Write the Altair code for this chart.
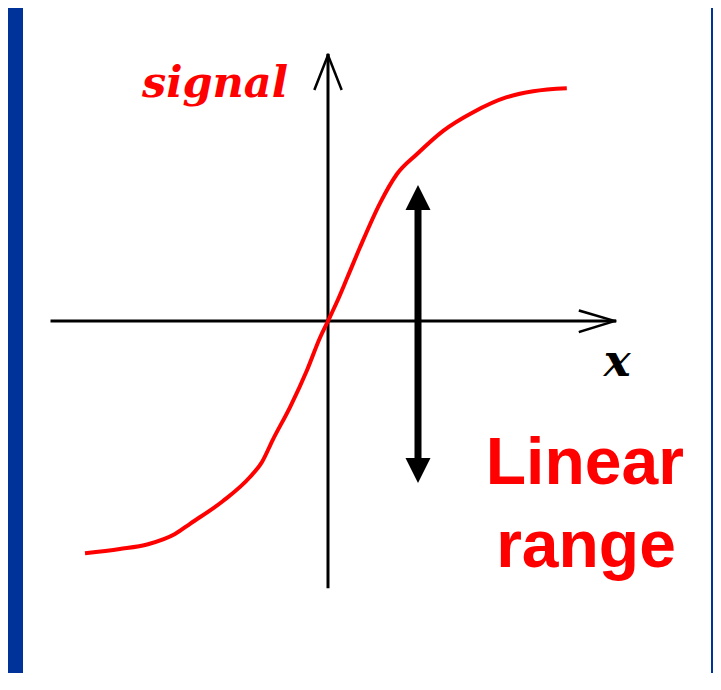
import altair as alt
import pandas as pd

# ---- data (units: 1 unit = 60 px, origin at the axes crossing) ----
curve_x = [-4.05, -3.47, -3.00, -2.55, -2.30, -1.75, -1.30, -1.10, -0.92, -0.63, -0.35, -0.13, 0.0,
           0.15, 0.32, 0.53, 0.87, 1.15, 1.48, 1.92, 2.42, 2.98, 3.42, 3.98]
curve_y = [-3.87, -3.80, -3.72, -3.55, -3.38, -3.00, -2.60, -2.35, -1.98, -1.43, -0.82, -0.27, 0.0,
           0.32, 0.72, 1.22, 1.97, 2.45, 2.78, 3.17, 3.48, 3.73, 3.83, 3.88]

# axis segments: x, y, x2, y2
axis_x1 = [-4.60, 0.00, 4.20, 4.20, -0.22, 0.22]
axis_y1 = [0.00, -4.43, 0.17, -0.18, 3.87, 3.87]
axis_x2 = [4.78, 0.00, 4.78, 4.78, 0.00, 0.00]
axis_y2 = [0.00, 4.43, 0.00, 0.00, 4.43, 4.43]
axis_w = [3, 3, 2.5, 2.5, 2.5, 2.5]

# linear range double arrow
range_x = [1.5]
range_top = [2.27]
range_bottom = [-2.70]
head_len = 0.42

labels = ["signal", "x"]
label_x = [-3.10, 4.82]
label_y = [3.73, -0.92]

note_lines = ["Linear", "range"]
note_x = [4.28, 4.30]
note_y = [-2.72, -4.10]

W, H = 705, 665
xs = alt.Scale(domain=[-5.3333, 6.4167], nice=False, zero=False)
ys = alt.Scale(domain=[-5.8667, 5.2167], nice=False, zero=False)

one = pd.DataFrame({"a": [0]})
left_bar = alt.Chart(one).mark_rect(color="#003399").encode(
    x=alt.value(0), x2=alt.value(15), y=alt.value(0), y2=alt.value(H))
right_bar = alt.Chart(one).mark_rect(color="#003399").encode(
    x=alt.value(W - 2), x2=alt.value(W), y=alt.value(0), y2=alt.value(H))

seg = pd.DataFrame({"x": axis_x1, "y": axis_y1, "x2": axis_x2, "y2": axis_y2, "w": axis_w})
axes = alt.Chart(seg).mark_rule(color="black", strokeCap="square").encode(
    x=alt.X("x:Q", scale=xs, axis=None), y=alt.Y("y:Q", scale=ys, axis=None),
    x2="x2:Q", y2="y2:Q",
    strokeWidth=alt.StrokeWidth("w:Q", scale=None, legend=None))

cdf = pd.DataFrame({"x": curve_x, "y": curve_y, "o": list(range(len(curve_x)))})
curve = alt.Chart(cdf).mark_line(color="#ff0000", strokeWidth=4, interpolate="monotone").encode(
    x=alt.X("x:Q", scale=xs, axis=None), y=alt.Y("y:Q", scale=ys, axis=None), order="o:Q")

adf = pd.DataFrame({"x": range_x, "top": [t - head_len * 0.9 for t in range_top],
                    "bot": [b + head_len * 0.9 for b in range_bottom],
                    "hu": [t - head_len / 2 for t in range_top],
                    "hd": [b + head_len / 2 for b in range_bottom]})
shaft = alt.Chart(adf).mark_rule(color="black", strokeWidth=7).encode(
    x=alt.X("x:Q", scale=xs, axis=None), y=alt.Y("top:Q", scale=ys, axis=None), y2="bot:Q")
head_up = alt.Chart(adf).mark_point(shape="M0,-1L1,1L-1,1Z", filled=True, size=625,
                                    color="black", opacity=1).encode(
    x=alt.X("x:Q", scale=xs, axis=None), y=alt.Y("hu:Q", scale=ys, axis=None))
head_dn = alt.Chart(adf).mark_point(shape="M0,1L1,-1L-1,-1Z", filled=True, size=625,
                                    color="black", opacity=1).encode(
    x=alt.X("x:Q", scale=xs, axis=None), y=alt.Y("hd:Q", scale=ys, axis=None))

ldf = pd.DataFrame({"t": labels, "x": label_x, "y": label_y})
sig = alt.Chart(ldf[ldf.t == "signal"]).mark_text(
    font="DejaVu Serif", fontSize=43, fontStyle="italic", fontWeight="bold",
    align="left", baseline="alphabetic", color="#ff0000").encode(
    x=alt.X("x:Q", scale=xs, axis=None), y=alt.Y("y:Q", scale=ys, axis=None), text="t:N")
xlab = alt.Chart(ldf[ldf.t == "x"]).mark_text(
    font="DejaVu Serif", fontSize=45, fontStyle="italic", fontWeight="bold",
    align="center", baseline="alphabetic", color="black").encode(
    x=alt.X("x:Q", scale=xs, axis=None), y=alt.Y("y:Q", scale=ys, axis=None), text="t:N")

ndf = pd.DataFrame({"t": note_lines, "x": note_x, "y": note_y})
note = alt.Chart(ndf).mark_text(
    font="Liberation Sans", fontSize=66, fontWeight="bold",
    align="center", baseline="alphabetic", color="#ff0000").encode(
    x=alt.X("x:Q", scale=xs, axis=None), y=alt.Y("y:Q", scale=ys, axis=None), text="t:N")

chart = alt.layer(left_bar, right_bar, axes, curve, shaft, head_up, head_dn, sig, xlab, note).properties(
    width=W, height=H, autosize=alt.AutoSizeParams(type="none"), padding=0,
    background="white"
).configure_view(stroke=None)

chart.save("out.html", embed_options={"renderer": "svg", "actions": False})
